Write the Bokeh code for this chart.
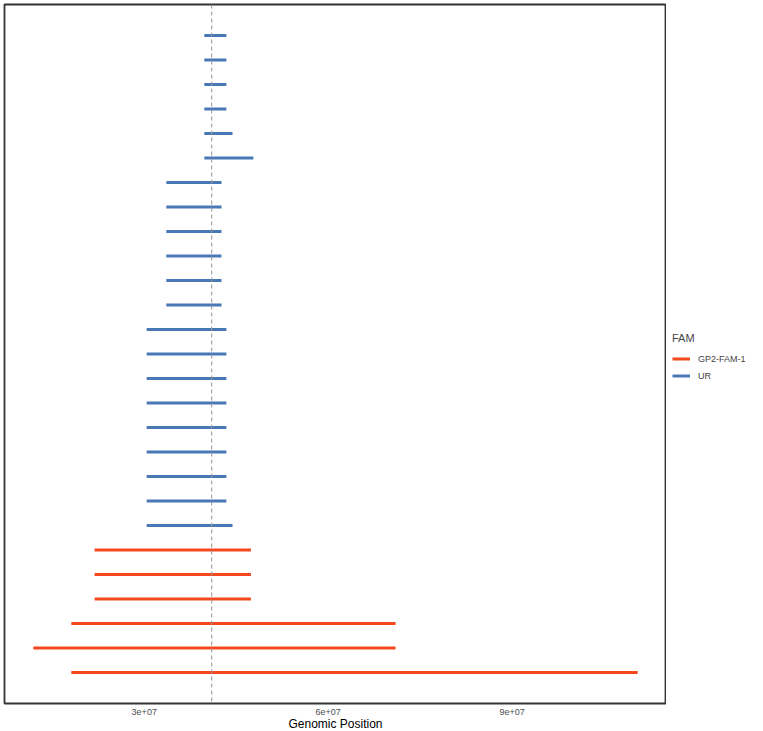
from bokeh.plotting import figure
from bokeh.layouts import row as bk_row
from bokeh.models import ColumnDataSource, Span, Legend, LegendItem, FixedTicker, Range1d
from bokeh.embed import file_html
from bokeh.resources import INLINE

# Data (rows from bottom to top), positions in base pairs
fam = ["GP2-FAM-1"] * 6 + ["UR"] * 21
start = [1.81e7, 1.19e7, 1.81e7, 2.19e7, 2.19e7, 2.19e7,
         3.04e7] + [3.04e7] * 8 + [3.36e7] * 6 + [3.98e7, 3.98e7] + [3.98e7] * 4
end = [11.05e7, 7.10e7, 7.10e7, 4.74e7, 4.74e7, 4.74e7,
       4.44e7] + [4.34e7] * 8 + [4.26e7] * 6 + [4.78e7, 4.44e7] + [4.34e7] * 4
row = list(range(1, len(fam) + 1))
ref_pos = 4.1e7
tick_vals = [3e7, 6e7, 9e7]
tick_labels = ["3e+07", "6e+07", "9e+07"]
fam_levels = ["GP2-FAM-1", "UR"]
fam_colors = {"GP2-FAM-1": "#F5481E", "UR": "#4878B6"}

FONT = "Liberation Sans"
NARROW = "'Liberation Sans Narrow', 'Liberation Sans', sans-serif"
FH = 699
TOP = 4

p = figure(frame_width=662, frame_height=FH, output_backend="svg", toolbar_location=None,
           x_range=Range1d(0.72e7, 11.52e7), y_range=Range1d(-0.265, 28.265),
           min_border_left=4, min_border_top=TOP, min_border_right=0, min_border_bottom=0)

p.xgrid.visible = False
p.ygrid.visible = False
p.yaxis.visible = False
p.outline_line_color = "#333333"
p.outline_line_width = 1.8
p.background_fill_color = "white"
p.border_fill_color = "white"

ax = p.xaxis[0]
ax.ticker = FixedTicker(ticks=tick_vals)
ax.major_label_overrides = {int(v): l for v, l in zip(tick_vals, tick_labels)}
ax.axis_line_color = None
ax.major_tick_line_color = None
ax.minor_tick_line_color = None
ax.major_tick_in = 0
ax.major_tick_out = 0
ax.major_label_text_font = NARROW
ax.major_label_text_font_size = "9px"
ax.major_label_text_color = "#4D4D4D"
ax.major_label_standoff = 5
ax.axis_label = "Genomic Position"
ax.axis_label_text_font = FONT
ax.axis_label_text_font_size = "12px"
ax.axis_label_text_font_style = "normal"
ax.axis_label_text_color = "black"
ax.axis_label_standoff = -1

p.add_layout(Span(location=ref_pos, dimension="height", line_color="#9A9A9A",
                  line_dash="4 3", line_width=1.1))

# legend panel (separate figure to the right of the plot panel)
q = figure(frame_width=97, frame_height=FH, output_backend="svg", toolbar_location=None,
           x_range=Range1d(0, 1), y_range=Range1d(0, 1),
           min_border_left=0, min_border_top=TOP, min_border_right=0, min_border_bottom=0)
q.axis.visible = False
q.grid.visible = False
q.outline_line_color = None
q.border_fill_color = "white"

nan = float("nan")
items = []
for f in fam_levels:
    idx = [i for i, v in enumerate(fam) if v == f]
    src = ColumnDataSource(dict(x0=[start[i] for i in idx], x1=[end[i] for i in idx],
                                y=[row[i] for i in idx]))
    p.segment(x0="x0", y0="y", x1="x1", y1="y", source=src,
              line_color=fam_colors[f], line_width=3)
    rq = q.segment(x0=[nan], y0=[nan], x1=[nan], y1=[nan],
                   line_color=fam_colors[f], line_width=3)
    items.append(LegendItem(label=f, renderers=[rq]))

legend = Legend(items=items, title="FAM", location=(6, FH + TOP - 383))
legend.title_text_font = FONT
legend.title_text_font_size = "11px"
legend.title_text_font_style = "normal"
legend.label_text_font = FONT
legend.label_text_font_size = "9px"
legend.border_line_color = None
legend.background_fill_alpha = 0
legend.glyph_width = 18
legend.glyph_height = 15
legend.label_height = 15
legend.label_standoff = 8
legend.spacing = 2
legend.padding = 0
legend.margin = 0
legend.title_standoff = 7
q.add_layout(legend)

layout = bk_row(p, q)
open("out.html", "w").write(file_html(layout, INLINE))
